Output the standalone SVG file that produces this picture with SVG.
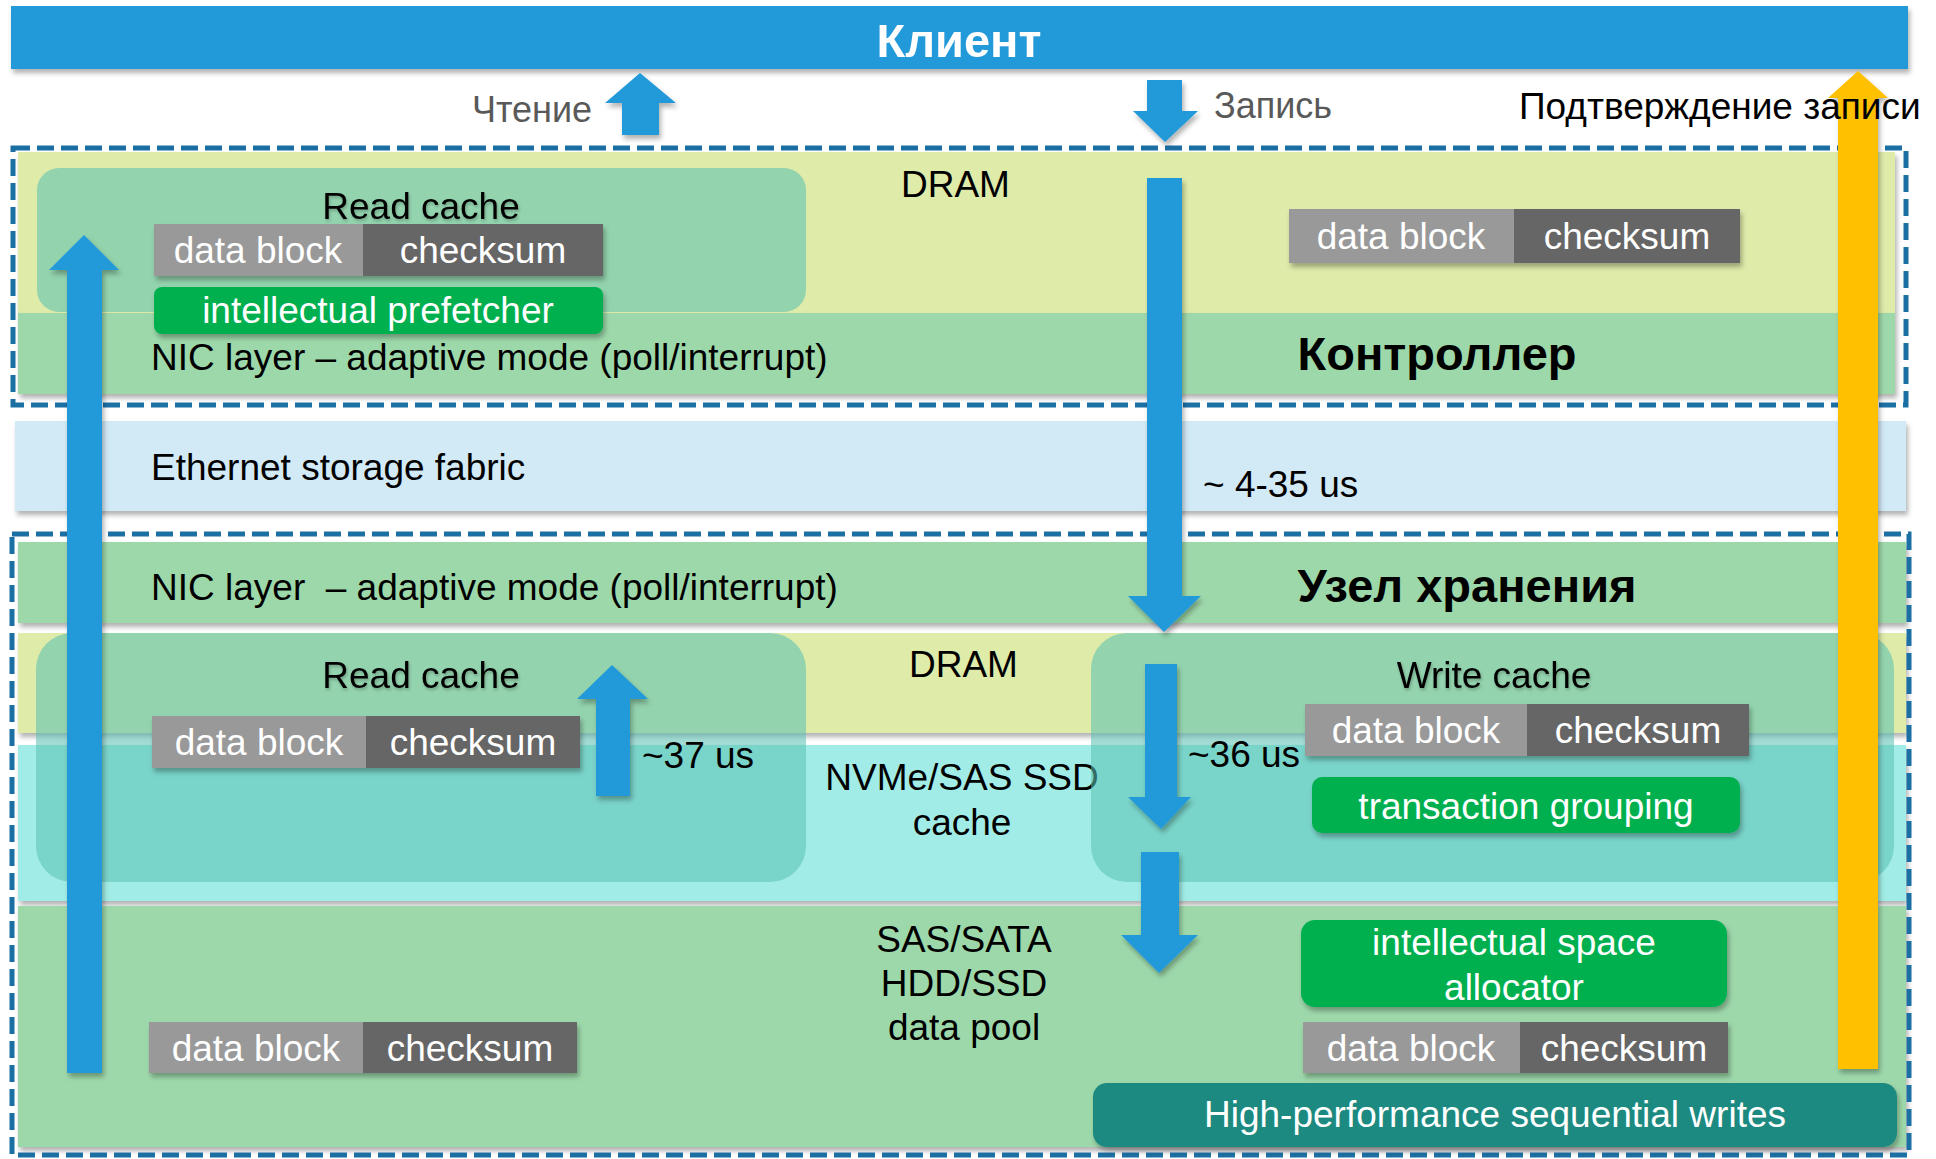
<svg xmlns="http://www.w3.org/2000/svg" width="1936" height="1159" viewBox="0 0 1936 1159">
<defs>
<filter id="sh" x="-5%" y="-20%" width="110%" height="150%">
<feDropShadow dx="2" dy="4" stdDeviation="2.5" flood-color="#000" flood-opacity="0.3"/>
</filter>
<filter id="tsh" x="-5%" y="-20%" width="110%" height="150%">
<feDropShadow dx="1" dy="2" stdDeviation="1.5" flood-color="#000" flood-opacity="0.25"/>
</filter>
<style>
.t{font-family:"Liberation Sans",Arial,sans-serif;font-size:37px;fill:#000}
.w{fill:#fff}
.c{text-anchor:middle}
.b{font-weight:bold;font-size:47px}
.g{fill:#595959;font-size:36px}
.band-y{fill:#DEEBA9}
.band-g{fill:#9DD8AA}
.band-c{fill:#A1ECE6}
.band-e{fill:#D2E9F6}
.cache{fill:#59C1B2;fill-opacity:0.56}
.db{fill:#999999}
.cs{fill:#666666}
.gr{fill:#00B050}
.dash{fill:none;stroke:#1C6FA3;stroke-width:5;stroke-dasharray:17 7}
.ab{fill:#2199D8}
.ay{fill:#FFC000}
</style>
</defs>
<rect width="1936" height="1159" fill="#fff"/>

<g id="client" filter="url(#sh)">
<rect x="11" y="6" width="1897" height="63" fill="#2199D8"/>
<text class="t b w c" x="959" y="57" font-size="48">Клиент</text>
</g>

<g id="controller">
<rect class="band-y" x="18" y="152" width="1877" height="161" filter="url(#sh)"/>
<rect class="band-g" x="18" y="313" width="1877" height="81" filter="url(#sh)"/>
<text class="t" x="901" y="197">DRAM</text>
<text class="t" x="151" y="370">NIC layer – adaptive mode (poll/interrupt)</text>
<text class="t b c" x="1437" y="370">Контроллер</text>
<rect class="dash" x="13" y="148" width="1893" height="257"/>
</g>

<g id="ctrl-read-cache">
<rect class="cache" x="37" y="168" width="769" height="144" rx="22"/>
<text class="t c" x="421" y="219" filter="url(#tsh)">Read cache</text>
<g filter="url(#sh)">
<rect class="db" x="154" y="224" width="209" height="52"/>
<rect class="cs" x="363" y="224" width="240" height="52"/>
</g>
<text class="t w c" x="258" y="263">data block</text>
<text class="t w c" x="483" y="263">checksum</text>
<rect class="gr" x="154" y="287" width="449" height="47" rx="8" filter="url(#sh)"/>
<text class="t w c" x="378" y="323">intellectual prefetcher</text>
</g>

<g id="ctrl-block">
<g filter="url(#sh)">
<rect class="db" x="1289" y="209" width="225" height="54"/>
<rect class="cs" x="1514" y="209" width="226" height="54"/>
</g>
<text class="t w c" x="1401" y="249">data block</text>
<text class="t w c" x="1627" y="249">checksum</text>
</g>

<g id="fabric">
<rect class="band-e" x="15" y="421" width="1891" height="90" filter="url(#sh)"/>
<text class="t" x="151" y="480">Ethernet storage fabric</text>
</g>

<g id="storage-node">
<rect class="band-g" x="18" y="542" width="1888" height="81" filter="url(#sh)"/>
<rect class="band-y" x="18" y="633" width="1888" height="100" filter="url(#sh)"/>
<rect class="band-c" x="18" y="745" width="1888" height="156" filter="url(#sh)"/>
<rect class="band-g" x="18" y="906" width="1888" height="241" filter="url(#sh)"/>
<text class="t" x="151" y="600" xml:space="preserve">NIC layer  – adaptive mode (poll/interrupt)</text>
<text class="t b c" x="1467" y="602">Узел хранения</text>
<text class="t" x="909" y="677">DRAM</text>
<text class="t c" x="962" y="790">NVMe/SAS SSD</text>
<text class="t c" x="962" y="835">cache</text>
<text class="t c" x="964" y="952">SAS/SATA</text>
<text class="t c" x="964" y="996">HDD/SSD</text>
<text class="t c" x="964" y="1040">data pool</text>
<rect class="dash" x="12" y="534" width="1897" height="621"/>
</g>

<g id="node-read-cache">
<rect class="cache" x="36" y="633" width="770" height="249" rx="36"/>
<text class="t c" x="421" y="688" filter="url(#tsh)">Read cache</text>
<g filter="url(#sh)">
<rect class="db" x="152" y="716" width="214" height="52"/>
<rect class="cs" x="366" y="716" width="214" height="52"/>
</g>
<text class="t w c" x="259" y="755">data block</text>
<text class="t w c" x="473" y="755">checksum</text>
</g>

<g id="write-cache">
<rect class="cache" x="1091" y="633" width="803" height="249" rx="36"/>
<text class="t c" x="1494" y="688" filter="url(#tsh)">Write cache</text>
<g filter="url(#sh)">
<rect class="db" x="1305" y="704" width="222" height="52"/>
<rect class="cs" x="1527" y="704" width="222" height="52"/>
</g>
<text class="t w c" x="1416" y="743">data block</text>
<text class="t w c" x="1638" y="743">checksum</text>
<rect class="gr" x="1312" y="777" width="428" height="56" rx="10" filter="url(#sh)"/>
<text class="t w c" x="1526" y="819">transaction grouping</text>
</g>

<g id="pool-left">
<g filter="url(#sh)">
<rect class="db" x="149" y="1022" width="214" height="51"/>
<rect class="cs" x="363" y="1022" width="214" height="51"/>
</g>
<text class="t w c" x="256" y="1061">data block</text>
<text class="t w c" x="470" y="1061">checksum</text>
</g>

<g id="space-allocator">
<rect class="gr" x="1301" y="920" width="426" height="87" rx="14" filter="url(#sh)"/>
<text class="t w c" x="1514" y="955">intellectual space</text>
<text class="t w c" x="1514" y="1000">allocator</text>
</g>

<g id="pool-right">
<g filter="url(#sh)">
<rect class="db" x="1303" y="1022" width="217" height="51"/>
<rect class="cs" x="1520" y="1022" width="208" height="51"/>
</g>
<text class="t w c" x="1411" y="1061">data block</text>
<text class="t w c" x="1624" y="1061">checksum</text>
</g>

<g id="seq-writes">
<rect x="1093" y="1083" width="804" height="64" rx="14" fill="#1E8A80" filter="url(#sh)"/>
<text class="t w c" x="1495" y="1127">High-performance sequential writes</text>
</g>

<g id="connectors" filter="url(#sh)">
<polygon id="read-out" class="ab" points="622,135 622,103 605,103 640,73 676,103 659,103 659,135"/>
<polygon id="write-in" class="ab" points="1147,80 1182,80 1182,111 1198,111 1165,142 1133,111 1147,111"/>
<polygon id="ack" class="ay" points="1838,1069 1838,98 1828,98 1858,71 1888,98 1878,98 1878,1069"/>
<polygon id="read-path" class="ab" points="67,1073 67,270 49,270 84,235 119,270 102,270 102,1073"/>
<polygon id="write-path" class="ab" points="1147,178 1182,178 1182,596 1201,596 1164,632 1128,596 1147,596"/>
<polygon id="read-37" class="ab" points="596,796 596,699 577,699 612,665 648,699 630,699 630,796"/>
<polygon id="write-36" class="ab" points="1145,664 1177,664 1177,797 1191,797 1161,829 1128,797 1145,797"/>
<polygon id="write-pool" class="ab" points="1141,852 1179,852 1179,935 1198,935 1159,973 1121,935 1141,935"/>
</g>

<g id="labels-top">
<text class="t g" x="472" y="122">Чтение</text>
<text class="t g" x="1214" y="118">Запись</text>
<text class="t" x="1519" y="119" font-size="35">Подтверждение записи</text>
</g>

<g id="latency-labels">
<text class="t" x="1203" y="497">~ 4-35 us</text>
<text class="t" x="642" y="768">~37 us</text>
<text class="t" x="1188" y="767">~36 us</text>
</g>
</svg>
